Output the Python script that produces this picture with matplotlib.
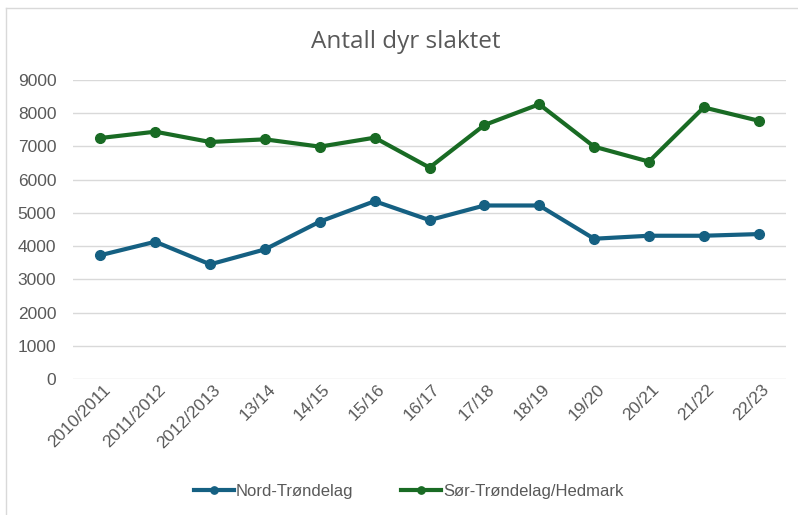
import matplotlib
matplotlib.use("Agg")
import matplotlib.pyplot as plt
import matplotlib.transforms as mtransforms
from matplotlib.lines import Line2D

seasons = ["2010/2011", "2011/2012", "2012/2013", "13/14", "14/15", "15/16",
           "16/17", "17/18", "18/19", "19/20", "20/21", "21/22", "22/23"]
nord = [3725, 4130, 3450, 3900, 4735, 5350, 4780, 5220, 5220, 4220, 4310, 4310, 4360]
sor = [7250, 7440, 7130, 7210, 6990, 7260, 6360, 7640, 8265, 6990, 6540, 8170, 7770]

blue = "#156082"
green = "#196B24"
grey = "#595959"

plt.rcParams['font.family'] = ['Liberation Sans', 'DejaVu Sans']

fig = plt.figure(figsize=(7.98, 5.15), dpi=100)
ax = fig.add_axes([0.0915, 0.264, 0.8935, 0.581])

x = list(range(len(seasons)))
ax.plot(x, nord, color=blue, lw=3, marker="o", ms=7, label="Nord-Trøndelag",
        solid_joinstyle="round")
ax.plot(x, sor, color=green, lw=3, marker="o", ms=7, label="Sør-Trøndelag/Hedmark",
        solid_joinstyle="round")

ax.set_xlim(-0.5, len(seasons) - 0.5)
ax.set_ylim(0, 9000)
ax.set_yticks(range(0, 9001, 1000))
ax.grid(axis="y", color="#D9D9D9", lw=1)
ax.set_axisbelow(True)
for s in ax.spines.values():
    s.set_visible(False)
ax.tick_params(length=0, colors=grey, labelsize=12.5)
ax.tick_params(axis="y", pad=12)
ax.set_xticks(x)
ax.set_xticklabels(seasons, rotation=45, ha="right", va="center", rotation_mode="anchor")
ax.tick_params(axis="x", pad=6)
shift = mtransforms.ScaledTranslation(8 / 100, 0, fig.dpi_scale_trans)
for lab in ax.get_xticklabels():
    lab.set_transform(lab.get_transform() + shift)

fig.text(0.508, 0.918, "Antall dyr slaktet", ha="center", va="center",
         fontsize=17.5, color=grey, family=["Open Sans", "DejaVu Sans"])

leg = fig.legend(loc="center", bbox_to_anchor=(0.512, 0.045), ncol=2, frameon=False,
                 fontsize=12, labelcolor=grey, handlelength=2.4, columnspacing=2.9,
                 handletextpad=0.1, markerscale=0.75)

# thin chart border, as in Excel
fig.add_artist(Line2D([0.0075, 0.0075], [0, 0.985], color="#D9D9D9", lw=1,
                      transform=fig.transFigure))
fig.add_artist(Line2D([0.0075, 1], [0.985, 0.985], color="#D9D9D9", lw=1,
                      transform=fig.transFigure))

fig.savefig("out.png", dpi=100)
